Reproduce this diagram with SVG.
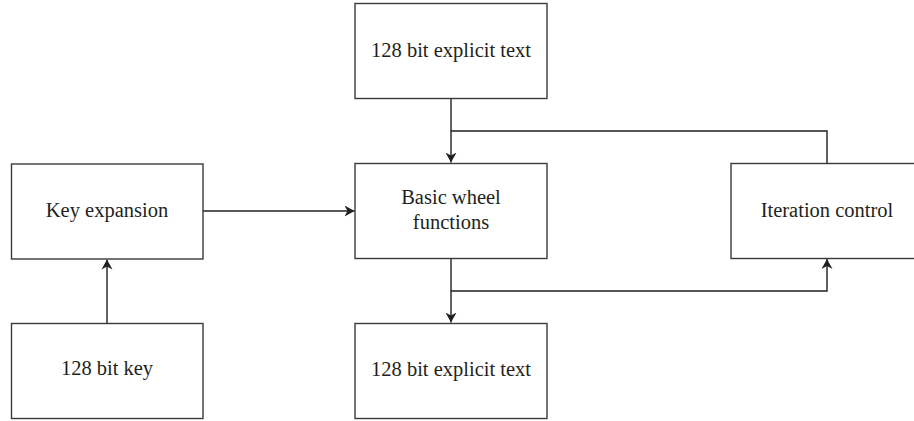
<svg xmlns="http://www.w3.org/2000/svg" width="914" height="421" viewBox="0 0 914 421">
<defs>
<style>
.box{fill:#fff;stroke:#3a3a3a;stroke-width:1.4}
.lbl{font-family:"Liberation Serif","Times New Roman",serif;font-size:20.5px;fill:#231f20;text-anchor:middle}
.ln{fill:none;stroke:#231f20;stroke-width:1.4}
</style>
<marker id="ah" viewBox="0 0 10 12" refX="10" refY="6" markerWidth="10" markerHeight="12" markerUnits="userSpaceOnUse" orient="auto">
<path d="M0,0.5 L10,6 L0,11.5 L3,6 Z" fill="#231f20"/>
</marker>
</defs>
<rect width="914" height="421" fill="#fff"/>
<g id="connectors">
<path class="ln" d="M451,98.5 V162.5" marker-end="url(#ah)"/>
<path class="ln" d="M451,131 H827 V163"/>
<path class="ln" d="M203,211 H354.5" marker-end="url(#ah)"/>
<path class="ln" d="M107,323 V259.5" marker-end="url(#ah)"/>
<path class="ln" d="M451,258.5 V322.5" marker-end="url(#ah)"/>
<path class="ln" d="M451,291 H827 V259" marker-end="url(#ah)"/>
</g>
<g id="top-text">
<rect class="box" x="355" y="3.5" width="192" height="95"/>
<text class="lbl" x="451" y="57">128 bit explicit text</text>
</g>
<g id="key-expansion">
<rect class="box" x="11.5" y="164" width="191.5" height="95"/>
<text class="lbl" x="107" y="217">Key expansion</text>
</g>
<g id="basic-wheel">
<rect class="box" x="355" y="163.5" width="192" height="95"/>
<text class="lbl" x="451" y="204">Basic wheel</text>
<text class="lbl" x="451" y="229">functions</text>
</g>
<g id="iteration-control">
<rect class="box" x="731" y="163.5" width="192" height="95"/>
<text class="lbl" x="827" y="217">Iteration control</text>
</g>
<g id="key">
<rect class="box" x="11.5" y="323.5" width="191.5" height="95"/>
<text class="lbl" x="107" y="375">128 bit key</text>
</g>
<g id="bottom-text">
<rect class="box" x="355" y="323.5" width="192" height="95"/>
<text class="lbl" x="451" y="376">128 bit explicit text</text>
</g>
</svg>
